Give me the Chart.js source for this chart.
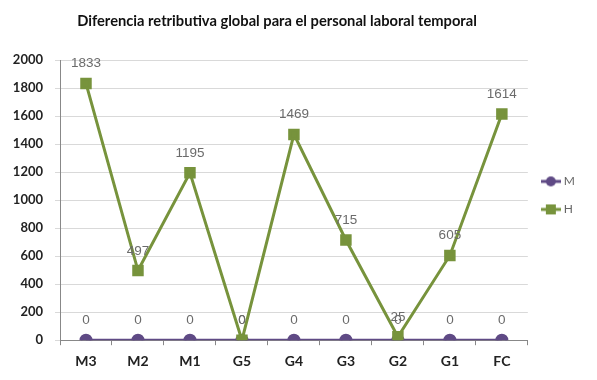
<!DOCTYPE html>
<html>
<head>
<meta charset="utf-8">
<script src="https://cdn.jsdelivr.net/npm/chart.js@4/dist/chart.umd.min.js"></script>
<style>
  body { margin: 0; background: #fff; }
  #wrap { width: 597px; height: 380px; }
</style>
</head>
<body>
<div id="wrap"><canvas id="chart"></canvas></div>
<script>
// data
const categories = ['M3', 'M2', 'M1', 'G5', 'G4', 'G3', 'G2', 'G1', 'FC'];
const mujeres = [0, 0, 0, 0, 0, 0, 0, 0, 0];
const hombres = [1833, 497, 1195, 0, 1469, 715, 25, 605, 1614];
const yTicks = [0, 200, 400, 600, 800, 1000, 1200, 1400, 1600, 1800, 2000];
const titleText = 'Diferencia retributiva global para el personal laboral temporal';

const purple = '#5f4a85';
const green = '#77933c';

// little line + marker picture for the legend
function legendIcon(color, style) {
  const c = document.createElement('canvas');
  c.width = 20; c.height = 12;
  const g = c.getContext('2d');
  g.strokeStyle = color; g.fillStyle = color; g.lineWidth = 3;
  g.beginPath(); g.moveTo(0, 6); g.lineTo(20, 6); g.stroke();
  if (style === 'circle') {
    g.beginPath(); g.arc(10, 6, 5, 0, Math.PI * 2); g.fill();
  } else {
    g.fillRect(5, 1, 10, 10);
  }
  return c;
}

// values written above each point + the title (a bit left of centre, like the original)
const extras = {
  id: 'extras',
  afterDatasetsDraw(chart) {
    const ctx = chart.ctx;
    ctx.save();
    ctx.font = '13.5px "Liberation Sans"';
    ctx.fillStyle = '#6b6b6b';
    ctx.textAlign = 'center';
    ctx.textBaseline = 'bottom';
    chart.data.datasets.forEach((ds, i) => {
      const meta = chart.getDatasetMeta(i);
      meta.data.forEach((pt, j) => {
        ctx.fillText(ds.data[j], pt.x, pt.y - 13);
      });
    });
    ctx.restore();
  },
  afterDraw(chart) {
    const ctx = chart.ctx;
    ctx.save();
    ctx.font = 'bold 14.7px Lato';
    ctx.fillStyle = '#111';
    ctx.textAlign = 'center';
    ctx.textBaseline = 'middle';
    ctx.fillText(titleText, 277, 21);
    ctx.restore();
  }
};

const ctx = document.getElementById('chart').getContext('2d');
const chart = new Chart(ctx, {
  type: 'line',
  data: {
    labels: categories,
    datasets: [{
      label: 'M',
      data: mujeres,
      borderColor: purple,
      backgroundColor: purple,
      borderWidth: 3,
      pointStyle: 'circle',
      pointRadius: 5,
      order: 1
    }, {
      label: 'H',
      data: hombres,
      borderColor: green,
      backgroundColor: green,
      borderWidth: 3,
      pointStyle: 'rect',
      pointRadius: 6,
      order: 0
    }]
  },
  options: {
    responsive: true,
    maintainAspectRatio: false,
    animation: false,
    layout: { padding: { left: 2, right: 12, top: 60, bottom: 2 } },
    plugins: {
      title: { display: false },
      legend: {
        position: 'right',
        align: 'start',
        title: { display: true, text: ' ', padding: { top: 85, bottom: 0 } },
        labels: {
          usePointStyle: true,
          pointStyleWidth: 14,
          color: '#666',
          font: { family: 'Lato', size: 12 },
          padding: 16,
          sort: (a, b) => a.datasetIndex - b.datasetIndex,
          generateLabels: (chart) => chart.data.datasets.map((ds, i) => ({
            text: ds.label,
            datasetIndex: i,
            fontColor: '#666',
            pointStyle: legendIcon(ds.borderColor, i === 0 ? 'circle' : 'rect'),
            lineWidth: 0,
            strokeStyle: 'transparent',
            fillStyle: 'transparent'
          }))
        }
      },
      tooltip: { enabled: false }
    },
    scales: {
      x: {
        offset: true,
        grid: { display: true, drawOnChartArea: false, offset: true, tickLength: 5, color: '#888' },
        border: { color: '#888' },
        ticks: { color: '#222', font: { family: 'Lato', size: 14, weight: 'bold' }, padding: 8 }
      },
      y: {
        min: 0,
        max: 2000,
        afterBuildTicks: (axis) => { axis.ticks = yTicks.map(v => ({ value: v })); },
        afterFit: (axis) => { axis.width = 58; },
        grid: { color: '#d9d9d9', tickLength: 5 },
        border: { color: '#888' },
        ticks: {
          color: '#222',
          font: { family: 'Lato', size: 13, weight: 'bold' },
          padding: 12,
          callback: (v) => String(v)
        }
      }
    }
  },
  plugins: [extras]
});
</script>
</body>
</html>
